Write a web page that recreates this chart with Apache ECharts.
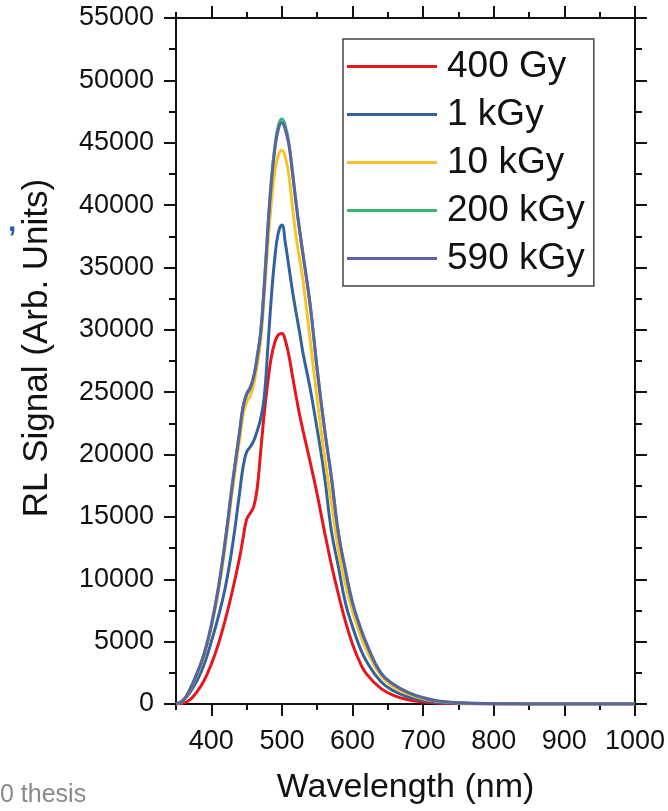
<!DOCTYPE html>
<html>
<head>
<meta charset="utf-8">
<script src="https://cdn.jsdelivr.net/npm/echarts@6/dist/echarts.min.js"></script>
<style>
  html, body { margin: 0; padding: 0; background: #fff; }
  #chart { width: 668px; height: 811px; }
</style>
</head>
<body>
<div id="chart"></div>
<script>
'use strict'

// wavelength (nm), values
const wavelengths = [350, 360, 370, 380, 390, 400, 410, 420, 430, 440, 445, 450, 455, 460, 465, 470, 475, 480, 485, 490, 495, 500, 505, 510, 515, 520, 525, 530, 540, 550, 560, 570, 580, 590, 600, 610, 620, 640, 660, 680, 700, 720, 750, 800, 850, 900, 950, 1000];

const gy400 = [0, 60, 350, 1000, 1900, 3200, 4800, 6800, 9100, 11700, 13300, 14800, 15300, 15800, 17300, 20300, 23300, 25800, 27800, 29000, 29600, 29700, 29100, 27900, 26300, 24700, 23200, 21900, 19400, 16800, 13900, 11200, 8800, 6600, 4800, 3400, 2400, 1250, 650, 320, 150, 70, 30, 10, 0, 0, 0, 0];
const kgy1 = [0, 250, 950, 1900, 3200, 5000, 7000, 9400, 12700, 16900, 19000, 20200, 20600, 21100, 21900, 22900, 24600, 28500, 32600, 35800, 37800, 38400, 36900, 35000, 33100, 31400, 29800, 28100, 25300, 22000, 18400, 13900, 11000, 8100, 6200, 4600, 3400, 1800, 1000, 550, 280, 140, 60, 20, 5, 0, 0, 0];
const kgy10 = [0, 280, 1150, 2400, 3900, 6100, 9000, 12800, 17200, 21200, 23200, 24200, 24700, 25600, 27200, 29200, 32800, 36800, 40200, 42700, 44000, 44400, 43800, 42300, 39800, 37500, 35700, 33900, 29200, 24400, 20000, 16200, 12300, 9600, 7400, 5700, 4300, 2300, 1300, 780, 420, 210, 90, 25, 8, 0, 0, 0];
const kgy200 = [0, 300, 1200, 2500, 4050, 6300, 9300, 13200, 17700, 21800, 23900, 24900, 25400, 26300, 27900, 29900, 33600, 38100, 42000, 44700, 46400, 46900, 46300, 44900, 42600, 40200, 38000, 36000, 32000, 26800, 22200, 18200, 13700, 10700, 8100, 6300, 4800, 2500, 1500, 900, 500, 250, 100, 30, 10, 0, 0, 0];
const kgy590 = [0, 300, 1200, 2500, 4050, 6300, 9300, 13200, 17700, 21800, 23800, 24800, 25300, 26200, 27800, 29800, 33500, 38000, 41800, 44500, 46100, 46600, 46000, 44800, 42600, 40200, 38000, 36000, 32000, 26800, 22200, 18200, 13700, 10700, 8100, 6300, 4800, 2500, 1500, 900, 500, 250, 100, 30, 10, 0, 0, 0];

const seriesNames = ['400 Gy', '1 kGy', '10 kGy', '200 kGy', '590 kGy'];
const seriesData = [gy400, kgy1, kgy10, kgy200, kgy590];
const colors = ['#e5161d', '#33639f', '#f5c426', '#35b673', '#5c62a2'];

const xMajor = [400, 500, 600, 700, 800, 900, 1000];

const font = "'Liberation Sans', Arial, sans-serif";
const black = '#111';

const chart = echarts.init(document.getElementById('chart'));

function plain(v)
{
    return String(v);
}

function xAxisBase(pos, major)
{
    return {
        type: 'value',
        position: pos,
        min: 350,
        max: 1000,
        interval: 50,
        axisLine: { show: major, onZero: false, lineStyle: { color: black, width: 2 } },
        axisTick: major
            ? { show: true, inside: false, length: 12, customValues: xMajor, lineStyle: { color: black, width: 2 } }
            : { show: true, inside: false, length: 6, lineStyle: { color: black, width: 2 } },
        axisLabel: { show: false },
        splitLine: { show: false }
    };
}

function yAxisBase(pos)
{
    return {
        type: 'value',
        position: pos,
        min: 0,
        max: 55000,
        interval: 5000,
        axisLine: { show: true, onZero: false, lineStyle: { color: black, width: 2 } },
        axisTick: { show: true, inside: false, length: 12, lineStyle: { color: black, width: 2 } },
        minorTick: { show: true, splitNumber: 2, length: 7, lineStyle: { color: black, width: 2 } },
        axisLabel: { show: false },
        splitLine: { show: false }
    };
}

const xBottom = xAxisBase('bottom', true);
xBottom.axisLabel = {
    show: true,
    customValues: xMajor,
    formatter: plain,
    fontFamily: font,
    fontSize: 27,
    color: black,
    margin: 24
};
xBottom.name = 'Wavelength (nm)';
xBottom.nameLocation = 'middle';
xBottom.nameGap = 67;
xBottom.nameTextStyle = { fontFamily: font, fontSize: 34, color: black };

const yLeft = yAxisBase('left');
yLeft.axisLabel = { show: true, formatter: plain, fontFamily: font, fontSize: 27, color: black, margin: 22 };
yLeft.name = 'RL Signal (Arb. Units)';
yLeft.nameLocation = 'middle';
yLeft.nameGap = 121;
yLeft.nameTextStyle = { fontFamily: font, fontSize: 35, color: black, padding: [0, 0, 0, 26] };

const option = {
    animation: false,
    backgroundColor: '#fff',
    grid: { left: 176, top: 18, right: 33, bottom: 107, containLabel: false },
    legend: {
        orient: 'vertical',
        left: 343,
        top: 39,
        data: seriesNames,
        icon: 'rect',
        itemWidth: 90,
        itemHeight: 3,
        itemGap: 11,
        padding: [9, 9, 9, 4],
        backgroundColor: '#fff',
        borderColor: '#444',
        borderWidth: 1.5,
        textStyle: { fontFamily: font, fontSize: 37, color: black, padding: [0, 0, 0, 5] }
    },
    xAxis: [xBottom, xAxisBase('bottom', false), xAxisBase('top', true), xAxisBase('top', false)],
    yAxis: [yLeft, yAxisBase('right')],
    series: seriesNames.map(function (name, i) {
        return {
            name: name,
            type: 'line',
            xAxisIndex: 0,
            yAxisIndex: 0,
            smooth: 0.45,
            showSymbol: false,
            symbol: 'none',
            lineStyle: { color: colors[i], width: 3 },
            itemStyle: { color: colors[i] },
            data: wavelengths.map(function (w, j) { return [w, seriesData[i][j]]; }),
            z: 2 + i
        };
    }),
    graphic: [
        {
            type: 'text',
            left: 0,
            top: 783,
            style: { text: '0 thesis', fontFamily: font, fontSize: 25, fill: '#8a8a8a' }
        },
        {
            type: 'text',
            left: 8,
            top: 208,
            style: { text: ',', fontFamily: font, fontSize: 30, fontWeight: 'bold', fill: '#1d5fb4' }
        }
    ]
};

chart.setOption(option);
</script>
</body>
</html>
